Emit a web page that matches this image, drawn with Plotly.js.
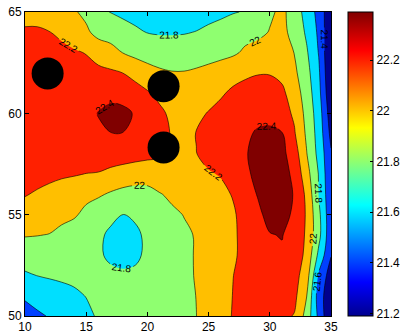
<!DOCTYPE html>
<html><head><meta charset="utf-8">
<script src="https://cdn.plot.ly/plotly-3.0.1.min.js"></script>
<style>html,body{margin:0;padding:0;background:#fff}#chart{width:416px;height:335px}</style>
</head><body><div id="chart"></div>
<script>
const xVals = [10,11,12,13,14,15,16,17,18,19,20,21,22,23,24,25,26,27,28,29,30,31,32,33,34,35];
const yVals = [50,51,52,53,54,55,56,57,58,59,60,61,62,63,64,65];
const zRows = [
 [21.54,21.575,21.61,21.65,21.7,21.76,21.82,21.84,21.86,21.87,21.89,21.91,21.93,21.96,21.999,22.07,22.14,22.21,22.23,22.25,22.25,22.24,22.19,21.93,21.55,21.2],
 [21.62,21.66,21.7,21.73,21.77,21.805,21.83,21.84,21.85,21.86,21.88,21.9,21.93,21.965,22.002,22.06,22.12,22.205,22.24,22.27,22.28,22.27,22.25,22.01,21.5,21.25],
 [21.77,21.803,21.82,21.835,21.84,21.84,21.83,21.825,21.84,21.83,21.85,21.89,21.93,21.965,22.01,22.07,22.12,22.198,22.25,22.3,22.31,22.3,22.27,22.1,21.57,21.3],
 [21.91,21.9,21.89,21.87,21.85,21.83,21.815,21.78,21.72,21.77,21.83,21.89,21.93,21.97,22.01,22.06,22.11,22.17,22.26,22.32,22.37,22.37,22.3,22.16,21.75,21.41],
 [22.01,22.005,21.995,21.96,21.92,21.87,21.83,21.77,21.73,21.76,21.84,21.9,21.94,21.975,22.01,22.07,22.12,22.17,22.26,22.33,22.39,22.41,22.3,22.18,21.86,21.45],
 [22.12,22.1,22.07,22.04,22.02,21.96,21.9,21.84,21.795,21.83,21.88,21.93,21.97,22.005,22.06,22.1,22.14,22.18,22.26,22.35,22.47,22.46,22.37,22.18,21.85,21.45],
 [22.21,22.18,22.14,22.1,22.07,22.04,22.02,21.98,21.96,21.96,21.97,21.99,22.03,22.06,22.09,22.12,22.16,22.21,22.3,22.41,22.48,22.47,22.39,22.16,21.79,21.45],
 [22.26,22.26,22.25,22.23,22.215,22.195,22.185,22.13,22.08,22.05,22.04,22.1,22.12,22.13,22.16,22.185,22.21,22.28,22.36,22.45,22.48,22.47,22.36,22.08,21.79,21.42],
 [22.29,22.3,22.3,22.31,22.32,22.33,22.33,22.34,22.33,22.3,22.27,22.23,22.19,22.17,22.197,22.25,22.3,22.34,22.39,22.44,22.46,22.45,22.3,22.01,21.74,21.42],
 [22.3,22.31,22.32,22.33,22.34,22.36,22.38,22.398,22.398,22.36,22.3,22.25,22.19,22.16,22.205,22.25,22.3,22.34,22.37,22.42,22.44,22.41,22.22,21.97,21.72,21.35],
 [22.3,22.31,22.32,22.33,22.35,22.37,22.405,22.43,22.43,22.39,22.3,22.24,22.16,22.14,22.16,22.21,22.25,22.28,22.32,22.35,22.34,22.28,22.17,21.94,21.7,21.29],
 [22.3,22.31,22.32,22.33,22.34,22.35,22.36,22.37,22.35,22.29,22.22,22.15,22.1,22.09,22.1,22.13,22.18,22.23,22.26,22.28,22.28,22.24,22.1,21.91,21.66,21.23],
 [22.28,22.3,22.31,22.31,22.3,22.28,22.26,22.23,22.198,22.13,22.07,22.03,22.01,22.01,22.03,22.06,22.1,22.14,22.17,22.19,22.19,22.15,22.04,21.87,21.63,21.2],
 [22.25,22.27,22.27,22.25,22.225,22.19,22.1,22.06,21.995,21.95,21.92,21.9,21.89,21.89,21.9,21.92,21.94,21.97,22.03,22.08,22.1,22.07,21.997,21.825,21.59,21.19],
 [22.23,22.24,22.205,22.16,22.086,22.027,21.95,21.926,21.877,21.829,21.795,21.785,21.785,21.79,21.805,21.838,21.872,21.906,21.94,21.95,22.01,22.04,21.95,21.77,21.565,21.21],
 [22.12,22.094,22.068,22.042,22.016,21.964,21.873,21.79,21.76,21.74,21.73,21.72,21.72,21.72,21.73,21.74,21.76,21.79,21.81,21.9,21.97,22.04,21.92,21.72,21.54,21.23]
];
const contourLevels = {start: 21.4, end: 22.4, size: 0.2};
const circleX = [11.85, 21.32, 21.32];
const circleY = [61.97, 61.34, 58.32];
const xTicks = [10,15,20,25,30,35];
const yTicks = [50,55,60,65];
const cbTicks = [21.2,21.4,21.6,21.8,22,22.2];
const cbTickText = ['21.2','21.4','21.6','21.8','22','22.2'];
const cbRange = [21.19, 22.39];

const FONT = 'Liberation Sans, Arial, Helvetica, sans-serif';
const bandColors = ['rgb(0,0,143)','rgb(0,64,255)','rgb(0,223,255)','rgb(143,255,112)','rgb(255,191,0)','rgb(255,32,0)','rgb(128,0,0)'];
const stepScale = [];
bandColors.forEach((c, i) => {
  const lo = i === 0 ? 0 : (2*i - 1) / 12;
  const hi = i === bandColors.length - 1 ? 1 : (2*i + 1) / 12;
  stepScale.push([lo, c]); stepScale.push([hi, c]);
});
const jetScale = [[0,'rgb(0,0,143)'],[0.111,'rgb(0,0,255)'],[0.365,'rgb(0,255,255)'],[0.619,'rgb(255,255,0)'],[0.873,'rgb(255,0,0)'],[1,'rgb(128,0,0)']];

const traces = [
  {
    type: 'contour', x: xVals, y: yVals, z: zRows,
    autocontour: false,
    contours: {start: contourLevels.start, end: contourLevels.end, size: contourLevels.size,
      coloring: 'fill', showlabels: true, labelformat: '.3~g',
      labelfont: {family: FONT, size: 10, color: '#000'}},
    colorscale: stepScale, showscale: false,
    line: {color: '#000', width: 0.6, smoothing: 1},
    hoverinfo: 'skip'
  },
  {
    type: 'scatter', mode: 'markers', x: circleX, y: circleY,
    marker: {size: 32, color: '#000'}, hoverinfo: 'skip', cliponaxis: true
  },
  {
    type: 'scatter', mode: 'markers', x: [null], y: [null],
    marker: {color: [cbRange[0]], cmin: cbRange[0], cmax: cbRange[1], colorscale: jetScale, showscale: true,
      colorbar: {x: 1.0556, xanchor: 'left', xref: 'paper', y: 0.5, yanchor: 'middle', len: 1, lenmode: 'fraction',
        thickness: 25, thicknessmode: 'pixels', xpad: 0, ypad: 0,
        outlinewidth: 1, outlinecolor: '#000',
        tickvals: cbTicks, ticktext: cbTickText, ticks: 'inside', ticklen: 3, tickcolor: '#000',
        tickfont: {family: FONT, size: 12, color: '#000'}}},
    hoverinfo: 'skip'
  }
];

const axisBase = {showline: true, mirror: 'ticks', linecolor: '#000', linewidth: 1, ticks: 'inside', ticklen: 4,
  tickcolor: '#000', showgrid: false, zeroline: false, tickfont: {family: FONT, size: 12, color: '#000'}};

const layout = {
  width: 416, height: 335,
  margin: {l: 25, r: 67, t: 12, b: 19, pad: 0},
  paper_bgcolor: '#fff', plot_bgcolor: '#fff',
  showlegend: false,
  xaxis: Object.assign({}, axisBase, {range: [10, 35], tickvals: xTicks}),
  yaxis: Object.assign({}, axisBase, {range: [50, 65], tickvals: yTicks})
};

Plotly.newPlot('chart', traces, layout, {displayModeBar: false, staticPlot: true});
</script>
</body></html>
